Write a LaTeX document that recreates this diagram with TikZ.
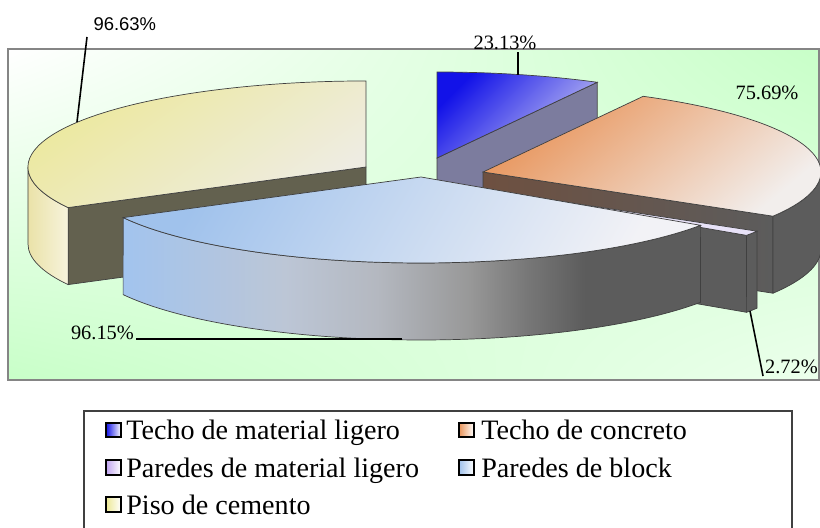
\documentclass[tikz,border=0pt]{standalone}
\usepackage{fontspec}
\setmainfont{Liberation Serif}
\newfontfamily\labelsans{Liberation Sans}
\usetikzlibrary{shadings}

\definecolor{bgGreen}{HTML}{C8FFC8}
\definecolor{frameGray}{HTML}{858585}
\definecolor{yelTop}{HTML}{ECE894}
\definecolor{yelTopB}{HTML}{EEECE2}
\definecolor{yelSide}{HTML}{EAE2A8}
\definecolor{yelCut}{HTML}{63614F}
\definecolor{bluTop}{HTML}{1212E8}
\definecolor{bluTopB}{HTML}{C8C8F2}
\definecolor{bluCut}{HTML}{7C7C9E}
\definecolor{oraTop}{HTML}{E8945A}
\definecolor{oraTopB}{HTML}{F2EEEC}
\definecolor{oraCut}{HTML}{6E5040}
\definecolor{sideGray}{HTML}{5C5C5C}
\definecolor{purTop}{HTML}{E8E2F8}
\definecolor{purMark}{HTML}{C0A4F0}
\definecolor{lbTop}{HTML}{A0C2EC}
\definecolor{lbTopB}{HTML}{F2F2F6}
\definecolor{lbSide}{HTML}{A2C4EE}
\definecolor{lbSideA}{HTML}{BCC6D6}
\definecolor{lbSideB}{HTML}{B4B8C0}
\definecolor{lbSideC}{HTML}{989898}
\definecolor{lbSideD}{HTML}{777777}

\pgfdeclarehorizontalshading{blockside}{100bp}{color(0bp)=(lbSide); color(25bp)=(lbSide); color(39bp)=(lbSideA); color(47bp)=(lbSideB); color(55bp)=(lbSideC); color(60bp)=(lbSideD); color(65bp)=(sideGray); color(100bp)=(sideGray)}

\tikzset{
  edge/.style={draw=black!75, line width=0.4pt},
  pct/.style={font=\fontsize{11.6}{13}\selectfont, inner sep=1pt},
  legtxt/.style={font=\fontsize{16}{18}\selectfont, inner sep=0pt, anchor=base west},
  legmark/.style={draw=black, line width=1.1pt},
  leader/.style={line width=0.9pt},
}

\begin{document}
\begin{tikzpicture}[x=0.02cm,y=-0.02cm]
\useasboundingbox (0,0) rectangle (820,527);
% plot area
\shade[upper left=white, upper right=bgGreen, lower left=bgGreen, lower right=bgGreen!35!white] (8,49) rectangle (819,380);
\draw[frameGray, line width=0.85pt] (8,49) rectangle (819,380);

% Piso de cemento
\fill[yelCut, edge] (366,167) -- (68.1,207.6) -- (68.1,284.6) -- (366,244) -- cycle;
\shade[left color=yelSide, right color=yelSide!40!white] (68.1,207.6) arc[start angle=151.8, end angle=180, x radius=338, y radius=86] -- (28,244) arc[start angle=180, end angle=151.8, x radius=338, y radius=86] -- cycle;
\draw[edge] (68.1,207.6) arc[start angle=151.8, end angle=180, x radius=338, y radius=86] -- (28,244) arc[start angle=180, end angle=151.8, x radius=338, y radius=86] -- cycle;
\shade[top color=yelTop, bottom color=yelTopB, shading angle=35] (366,167) -- (68.1,207.6) arc[start angle=151.8, end angle=270, x radius=338, y radius=86] -- cycle;
\draw[edge] (366,167) -- (68.1,207.6) arc[start angle=151.8, end angle=270, x radius=338, y radius=86] -- cycle;

% Techo de material ligero
\fill[bluCut, edge] (437,158) -- (597.2,82.3) -- (597.2,159.3) -- (437,235) -- cycle;
\shade[top color=bluTop, bottom color=bluTopB, shading angle=45] (437,158) -- (437,72) arc[start angle=-90, end angle=-61.7, x radius=338, y radius=86] -- cycle;
\draw[edge] (437,158) -- (437,72) arc[start angle=-90, end angle=-61.7, x radius=338, y radius=86] -- cycle;

% Techo de concreto
\shade[left color=oraCut, right color=sideGray] (483,172) -- (773,216.2) -- (773,293.2) -- (483,249) -- cycle;
\draw[edge] (483,172) -- (773,216.2) -- (773,293.2) -- (483,249) -- cycle;
\fill[sideGray, edge] (821,172) arc[start angle=0, end angle=30.9, x radius=338, y radius=86] -- (773,293.2) arc[start angle=30.9, end angle=0, x radius=338, y radius=86] -- cycle;
\shade[top color=oraTop, bottom color=oraTopB, shading angle=40] (483,172) -- (643.2,96.3) arc[start angle=-61.7, end angle=30.9, x radius=338, y radius=86] -- cycle;
\draw[edge] (483,172) -- (643.2,96.3) arc[start angle=-61.7, end angle=30.9, x radius=338, y radius=86] -- cycle;

% Paredes de material ligero
\fill[sideGray, edge] (467,187) -- (746.6,235.3) -- (746.6,312.3) -- (467,264) -- cycle;
\fill[sideGray, edge] (757,231.2) arc[start angle=30.9, end angle=34.2, x radius=338, y radius=86] -- (746.6,312.3) arc[start angle=34.2, end angle=30.9, x radius=338, y radius=86] -- cycle;
\fill[purTop, edge] (467,187) -- (757,231.2) arc[start angle=30.9, end angle=34.2, x radius=338, y radius=86] -- cycle;

% Paredes de block
\shade[shading=blockside] (700.6,225.3) arc[start angle=34.2, end angle=151.8, x radius=338, y radius=86] -- (123.1,294.6) arc[start angle=151.8, end angle=34.2, x radius=338, y radius=86] -- cycle;
\draw[edge] (700.6,225.3) arc[start angle=34.2, end angle=151.8, x radius=338, y radius=86] -- (123.1,294.6) arc[start angle=151.8, end angle=34.2, x radius=338, y radius=86] -- cycle;
\shade[top color=lbTop, bottom color=lbTopB, shading angle=60] (421,177) -- (700.6,225.3) arc[start angle=34.2, end angle=151.8, x radius=338, y radius=86] -- cycle;
\draw[edge] (421,177) -- (700.6,225.3) arc[start angle=34.2, end angle=151.8, x radius=338, y radius=86] -- cycle;

% data labels
\coordinate (tipY) at (77,122);
\coordinate (tipB) at (518,75);
\coordinate (tipL) at (402,339);
\coordinate (tipU) at (750,311);
\node[font=\labelsans\fontsize{10.5}{12}\selectfont, inner xsep=3.5pt, inner ysep=3.5pt, anchor=south west] (lblY) at (87,37) {96.63\%};
\node[pct, anchor=south] (lblB) at (505,52) {23.13\%};
\node[pct] (lblO) at (767,93) {75.69\%};
\node[pct, anchor=base east] (lblL) at (136,339) {96.15\%};
\node[pct, anchor=south west] (lblU) at (763,376) {2.72\%};
\draw[leader] (tipY) -- (lblY.south west);
\draw[leader] (tipB) -- (tipB |- lblB.south);
\draw[leader] (lblL.base east) -- (tipL);
\draw[leader] (tipU) -- (lblU.south west);

% legend
\draw[black!75, line width=0.8pt] (84,528) |- (792,411) -- (792,528);
\shadedraw[legmark, left color=bluTop, right color=white] (106,423) rectangle (121,437);
\shadedraw[legmark, left color=oraTop, right color=white] (459,423) rectangle (474,437);
\shadedraw[legmark, left color=purMark, right color=white] (106,460) rectangle (121,475);
\shadedraw[legmark, left color=lbTop, right color=white] (459,460) rectangle (474,475);
\shadedraw[legmark, left color=yelTop, right color=white] (106,497) rectangle (121,512);
\node[legtxt] (legA) at (126,439) {Techo de material ligero};
\node[legtxt] (legB) at (481,439) {Techo de concreto};
\node[legtxt] (legC) at (126,477) {Paredes de material ligero};
\node[legtxt] (legD) at (481,477) {Paredes de block};
\node[legtxt] (legE) at (126,514) {Piso de cemento};
\end{tikzpicture}
\end{document}
